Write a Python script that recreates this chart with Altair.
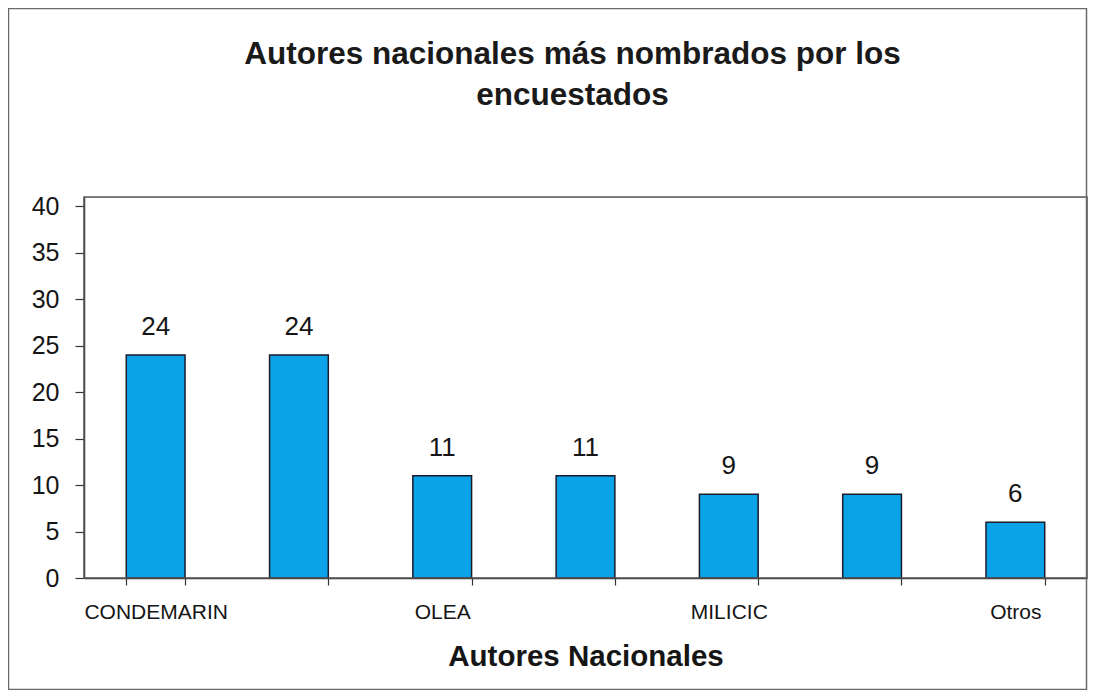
import altair as alt
import pandas as pd

# ---- data ----
categories = ["CONDEMARIN", "Autor 2", "OLEA", "Autor 4", "MILICIC", "Autor 6", "Otros"]
tick_labels = ["CONDEMARIN", "", "OLEA", "", "MILICIC", "", "Otros"]
values = [24, 24, 11, 11, 9, 9, 6]
y_ticks = [0, 5, 10, 15, 20, 25, 30, 35, 40]
title_lines = ["Autores nacionales más nombrados por los", "encuestados"]
x_title = "Autores Nacionales"

df = pd.DataFrame({"autor": categories, "n": values})

cats_js = "[" + ",".join("'" + c + "'" for c in categories) + "]"
labs_js = "[" + ",".join("'" + c + "'" for c in tick_labels) + "]"
label_expr = labs_js + "[indexof(" + cats_js + ", datum.value)]"

FONT = "Liberation Sans"

x_enc = alt.X(
    "autor:N",
    sort=categories,
    title=x_title,
    scale=alt.Scale(paddingInner=0.59, paddingOuter=0.295),
    axis=alt.Axis(
        labelExpr=label_expr,
        labelAngle=0,
        tickBand="extent",
        tickExtra=True,
        tickSize=7,
        labelPadding=16,
        labelFontSize=21,
        labelFont=FONT,
        labelColor="#151515",
        titleFont=FONT,
        titleFontSize=29.5,
        titleFontWeight="bold",
        titleColor="#151515",
        titleY=87,
        titleBaseline="alphabetic",
        domainColor="#333333",
        domainWidth=1.5,
        tickColor="#333333",
        tickWidth=1.2,
    ),
)

y_enc = alt.Y(
    "n:Q",
    title=None,
    scale=alt.Scale(domain=[0, 41], nice=False),
    axis=alt.Axis(
        values=y_ticks,
        grid=False,
        tickSize=9,
        labelPadding=16,
        labelFontSize=25,
        labelFont=FONT,
        labelColor="#151515",
        domainColor="#333333",
        domainWidth=1.5,
        tickColor="#333333",
        tickWidth=1.2,
    ),
)

base = alt.Chart(df)

bars = base.mark_bar(color="#0BA3E8", stroke="#1b1b2b", strokeWidth=1.5).encode(
    x=x_enc, y=y_enc
)

text = base.mark_text(
    fontSize=26, font=FONT, dy=-20, baseline="alphabetic", color="#151515"
).encode(
    x=alt.X("autor:N", sort=categories),
    y=alt.Y("n:Q"),
    text=alt.Text("n:Q"),
)

# plot-area border
plot_box = alt.Chart(alt.Data(values=[{"f": 1}])).mark_rect(
    filled=False, stroke="#555555", strokeWidth=1.5
).encode(
    x=alt.value(0),
    x2=alt.value(1003),
    y=alt.value(0),
    y2=alt.value(381),
)

# outer chart frame
frame = alt.Chart(alt.Data(values=[{"f": 1}])).mark_rect(
    filled=False, stroke="#6a6a6a", strokeWidth=1.5
).encode(
    x=alt.value(-75.5),
    x2=alt.value(1002.5),
    y=alt.value(-188.5),
    y2=alt.value(492.5),
)

chart = (
    alt.layer(bars, text, plot_box, frame)
    .properties(
        width=1003,
        height=381,
        title=alt.TitleParams(
            title_lines,
            fontSize=31.5,
            font=FONT,
            fontWeight="bold",
            color="#1a1a1a",
            offset=-104,
            lineHeight=41,
            dx=-13,
            anchor="middle",
            frame="group",
        ),
        padding={"left": 76, "top": 189, "right": 1, "bottom": 112},
        autosize=alt.AutoSizeParams(type="none"),
    )
    .configure_view(stroke="#555555", strokeWidth=1.5)
    .configure(background="white")
)

chart.save("out.html", embed_options={"renderer": "svg", "actions": False})
